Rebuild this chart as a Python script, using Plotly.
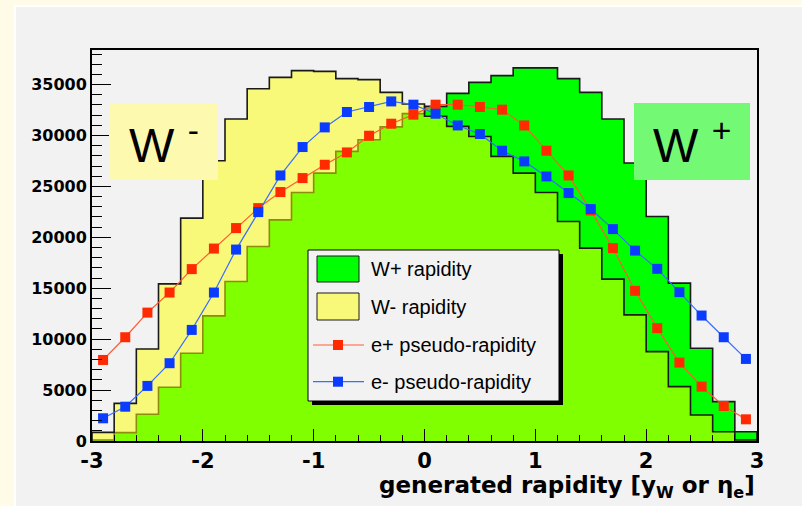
import numpy as np
import plotly.graph_objects as go

# ---------------- data ----------------
bin_edges = np.round(np.linspace(-3.0, 3.0, 31), 2)          # 30 bins of width 0.2
bin_centers = np.round((bin_edges[:-1] + bin_edges[1:]) / 2, 2)

w_plus = [100, 820, 2620, 5280, 8620, 12290, 15660, 19100, 21720, 24410,
          26310, 28440, 29590, 30850, 32150, 32860, 34140, 35220, 35880, 36640,
          36640, 35590, 34240, 31620, 27300, 22050, 15500, 9110, 3870, 915]
w_minus = [850, 3700, 9040, 15430, 21890, 27520, 31620, 34600, 35710, 36370,
           36300, 35590, 35490, 34240, 33100, 31900, 30900, 29900, 27950, 26310,
           24410, 21560, 18940, 15900, 12390, 8780, 5340, 2560, 915, 100]
e_plus = [7960, 10190, 12610, 14580, 16880, 18900, 20910, 22870, 24450, 25820,
          27130, 28340, 29980, 31160, 32050, 33030, 33030, 32800, 32540, 30990,
          28510, 26080, 22640, 18940, 14750, 11080, 7700, 5340, 3440, 2130]
e_minus = [2230, 3370, 5410, 7640, 10910, 14580, 18800, 22480, 26080, 28870,
           30800, 32310, 32800, 33350, 33030, 32140, 30990, 30150, 28510, 27460,
           25980, 24350, 22780, 20810, 18700, 16910, 14620, 12320, 10190, 8060]

series_names = ["W+ rapidity", "W- rapidity", "e+ pseudo-rapidity", "e- pseudo-rapidity"]
x_tick_vals = [-3, -2, -1, 0, 1, 2, 3]
x_tick_text = ["-3", "-2", "-1", "0", "1", "2", "3"]

# ---------------- styling ----------------
GRAY = "#f2f2f2"
CREAM = "#fffbe6"
GREEN = "#00ff00"
YELLOW_FILL = "rgba(255,255,0,0.5)"
RED = "#ff2a00"
BLUE = "#0a3cff"
OUTLINE = "#1a1a1a"

W, H = 802, 506
L, R, T, B = 92, 45, 50, 65
PW, PH = W - L - R, H - T - B


def px(xp):
    return (xp - L) / PW


def py(yp):
    return (H - B - yp) / PH


def step_xy(values):
    xs = np.concatenate([[bin_edges[0]], bin_edges, [bin_edges[-1]]])
    ys = np.concatenate([[0], values, [values[-1], 0]])
    return xs, ys


fig = go.Figure()

xs, ys = step_xy(w_plus)
fig.add_trace(go.Scatter(x=xs, y=ys, name=series_names[0], mode="lines",
                         line=dict(shape="hv", color=OUTLINE, width=1.6),
                         fill="tozeroy", fillcolor=GREEN, showlegend=False))
xs, ys = step_xy(w_minus)
fig.add_trace(go.Scatter(x=xs, y=ys, name=series_names[1], mode="lines",
                         line=dict(shape="hv", color=OUTLINE, width=1.6),
                         fill="tozeroy", fillcolor=YELLOW_FILL, showlegend=False))
fig.add_trace(go.Scatter(x=bin_centers, y=e_plus, name=series_names[2],
                         mode="lines+markers",
                         line=dict(color="#ff5a33", width=1.2),
                         marker=dict(symbol="square", size=10, color=RED),
                         showlegend=False))
fig.add_trace(go.Scatter(x=bin_centers, y=e_minus, name=series_names[3],
                         mode="lines+markers",
                         line=dict(color="#3a6cff", width=1.2),
                         marker=dict(symbol="square", size=10, color=BLUE),
                         showlegend=False))

shapes = []
# gray pad panel on cream page
shapes.append(dict(type="rect", xref="paper", yref="paper", layer="below",
                   x0=px(15), x1=px(805), y0=py(510), y1=py(6),
                   fillcolor=GRAY, line=dict(color="white", width=2)))

# W- / W+ label boxes
shapes.append(dict(type="rect", xref="paper", yref="paper", layer="above",
                   x0=px(109), x1=px(218), y0=py(180), y1=py(103),
                   fillcolor="#fdf9ae", line=dict(width=0)))
shapes.append(dict(type="rect", xref="paper", yref="paper", layer="above",
                   x0=px(634), x1=px(750), y0=py(180), y1=py(103),
                   fillcolor="#74f974", line=dict(width=0)))

# custom legend: shadow, box, swatches, line samples
shapes.append(dict(type="rect", xref="paper", yref="paper", layer="above",
                   x0=px(312), x1=px(563), y0=py(405), y1=py(254),
                   fillcolor="black", line=dict(width=0)))
shapes.append(dict(type="rect", xref="paper", yref="paper", layer="above",
                   x0=px(308), x1=px(559), y0=py(401), y1=py(250),
                   fillcolor=GRAY, line=dict(color="black", width=1)))
shapes.append(dict(type="rect", xref="paper", yref="paper", layer="above",
                   x0=px(317), x1=px(359), y0=py(282), y1=py(256),
                   fillcolor=GREEN, line=dict(color=OUTLINE, width=1)))
shapes.append(dict(type="rect", xref="paper", yref="paper", layer="above",
                   x0=px(317), x1=px(359), y0=py(320), y1=py(293),
                   fillcolor=YELLOW_FILL, line=dict(color=OUTLINE, width=1)))
for yc, lc, mc in [(345, "#ff5a33", RED), (381.7, "#3a6cff", BLUE)]:
    shapes.append(dict(type="line", xref="paper", yref="paper", layer="above",
                       x0=px(313), x1=px(364), y0=py(yc), y1=py(yc),
                       line=dict(color=lc, width=1.2)))
    shapes.append(dict(type="rect", xref="paper", yref="paper", layer="above",
                       x0=px(333), x1=px(343), y0=py(yc + 5), y1=py(yc - 5),
                       fillcolor=mc, line=dict(width=0)))

annotations = []
for name, yc in zip(series_names, [269, 306.7, 345, 381.7]):
    annotations.append(dict(xref="paper", yref="paper", x=px(369), y=py(yc),
                            xanchor="left", yanchor="middle", showarrow=False,
                            text=name,
                            font=dict(family="Liberation Sans, Arial", size=20,
                                      color="black")))

annotations.append(dict(xref="paper", yref="paper", x=px(163.5), y=py(141.5),
                        xanchor="center", yanchor="middle", showarrow=False,
                        text="W <sup>-</sup>",
                        font=dict(family="Liberation Sans, Arial", size=48,
                                  color="black")))
annotations.append(dict(xref="paper", yref="paper", x=px(692), y=py(141.5),
                        xanchor="center", yanchor="middle", showarrow=False,
                        text="W <sup>+</sup>",
                        font=dict(family="Liberation Sans, Arial", size=48,
                                  color="black")))

annotations.append(dict(xref="paper", yref="paper", x=px(757), y=py(487),
                        xanchor="right", yanchor="middle", showarrow=False,
                        text="generated rapidity [y<sub>W</sub> or η<sub>e</sub>]",
                        font=dict(family="DejaVu Sans", size=23, color="black",
                                  weight="bold")))

fig.update_layout(
    width=W, height=H,
    margin=dict(l=L, r=R, t=T, b=B),
    paper_bgcolor=CREAM, plot_bgcolor=GRAY,
    shapes=shapes, annotations=annotations,
    showlegend=False,
)

fig.update_xaxes(range=[-3, 3], showgrid=False, zeroline=False,
                 showline=True, linecolor="black", linewidth=2, mirror=True,
                 ticks="inside", ticklen=12, tickwidth=1, tickcolor="black",
                 tickvals=x_tick_vals, ticktext=x_tick_text,
                 minor=dict(ticks="inside", dtick=0.2, ticklen=6,
                            tickcolor="black", tickwidth=1),
                 tickfont=dict(family="DejaVu Sans", size=21, color="black",
                               weight="bold"))
fig.update_yaxes(range=[0, 38400], showgrid=False, zeroline=False,
                 showline=True, linecolor="black", linewidth=2, mirror=True,
                 ticks="inside", ticklen=19, tickwidth=1, tickcolor="black",
                 dtick=5000, tick0=0, tickformat="d",
                 minor=dict(ticks="inside", dtick=1000, ticklen=10,
                            tickcolor="black", tickwidth=1),
                 tickfont=dict(family="DejaVu Sans", size=16, color="black",
                               weight="bold"))

fig.write_html("out.html")
